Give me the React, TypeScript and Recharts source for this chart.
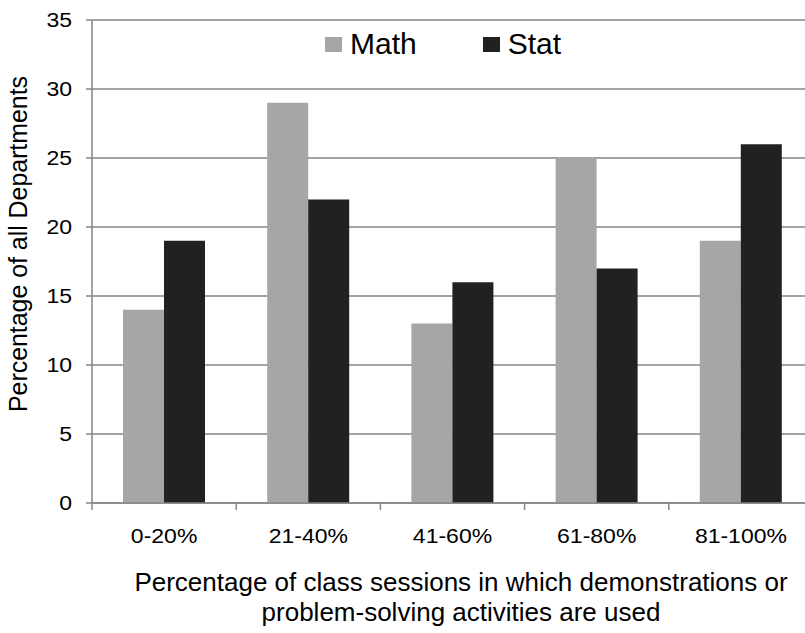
import React from 'react';
import { BarChart, Bar, XAxis, YAxis, CartesianGrid, Legend } from 'recharts';

const categories = ['0-20%', '21-40%', '41-60%', '61-80%', '81-100%'];
const mathValues = [14, 29, 13, 25, 19];
const statValues = [19, 22, 16, 17, 26];
const yTicks = [0, 5, 10, 15, 20, 25, 30, 35];

const seriesNames = ['Math', 'Stat'];
const seriesColors = ['#a6a6a6', '#212121'];

const data = categories.map((c, i) => ({
  name: c,
  Math: mathValues[i],
  Stat: statValues[i],
}));

const FONT = '"Liberation Sans", Arial, sans-serif';
const CHART_W = 820;
const CHART_H = 633;
const PLOT_LEFT = 92;
const PLOT_RIGHT = 7;
const HALF_BAND = (CHART_W - PLOT_LEFT - PLOT_RIGHT) / categories.length / 2;
const GRID = '#868686';
// tick labels in the source look a bit wider than plain Arial
const TICK_STRETCH = 1.18;

// category label plus the boundary tick mark on its left
const XTick = (props: any) => {
  const { x, y, payload } = props;
  return (
    <g>
      <line x1={x - HALF_BAND} y1={y} x2={x - HALF_BAND} y2={y + 7} stroke={GRID} strokeWidth={1.5} />
      <text
        transform={`translate(${x},${y + 40}) scale(${TICK_STRETCH},1)`}
        textAnchor="middle"
        fontSize={19.5}
        fontFamily={FONT}
        fill="#000"
      >
        {payload.value}
      </text>
    </g>
  );
};

const YTick = (props: any) => {
  const { x, y, payload } = props;
  return (
    <text
      transform={`translate(${x},${y + 7}) scale(${TICK_STRETCH},1)`}
      textAnchor="end"
      fontSize={19.5}
      fontFamily={FONT}
      fill="#000"
    >
      {payload.value}
    </text>
  );
};

const LegendContent = () => (
  <div style={{ display: 'flex', alignItems: 'center', fontFamily: FONT, fontSize: 30, color: '#000' }}>
    {seriesNames.map((n, i) => (
      <div key={n} style={{ display: 'flex', alignItems: 'center', marginRight: i === 0 ? 66 : 0 }}>
        <span style={{ display: 'inline-block', width: 17, height: 15, background: seriesColors[i], marginRight: 8 }} />
        <span>{n}</span>
      </div>
    ))}
  </div>
);

export default function App() {
  return (
    <div style={{ position: 'absolute', left: 0, top: 0, width: 805, height: 633, overflow: 'hidden', background: '#fff' }}>
      <BarChart
        width={CHART_W}
        height={CHART_H}
        data={data}
        margin={{ top: 20, right: PLOT_RIGHT, left: 0, bottom: 90 }}
        barGap={0}
        barSize={41}
      >
        <CartesianGrid horizontal vertical={false} stroke={GRID} strokeWidth={1.5} />
        <XAxis
          dataKey="name"
          height={40}
          axisLine={{ stroke: GRID, strokeWidth: 1.5 }}
          tickLine={false}
          tickSize={0}
          tickMargin={0}
          tick={<XTick />}
          interval={0}
        />
        <YAxis
          width={PLOT_LEFT}
          domain={[0, 35]}
          ticks={yTicks}
          interval={0}
          axisLine={{ stroke: GRID, strokeWidth: 1.5 }}
          tickLine={{ stroke: GRID, strokeWidth: 1.5 }}
          tickSize={6}
          tickMargin={14}
          tick={<YTick />}
        />
        <Legend
          layout="horizontal"
          verticalAlign="middle"
          align="center"
          content={<LegendContent />}
          wrapperStyle={{ top: 27, left: 325, width: 300, height: 40 }}
        />
        {seriesNames.map((n, i) => (
          <Bar key={n} dataKey={n} fill={seriesColors[i]} isAnimationActive={false} />
        ))}
      </BarChart>
      <svg width={805} height={633} style={{ position: 'absolute', left: 0, top: 0, pointerEvents: 'none' }}>
        <text
          transform="translate(27,244) rotate(-90)"
          textAnchor="middle"
          fontFamily={FONT}
          fontSize={26}
          textLength={336}
          lengthAdjust="spacingAndGlyphs"
          fill="#000"
        >
          Percentage of all Departments
        </text>
        <text x={461} y={591} textAnchor="middle" fontFamily={FONT} fontSize={26} fill="#000">
          Percentage of class sessions in which demonstrations or
        </text>
        <text x={461} y={621} textAnchor="middle" fontFamily={FONT} fontSize={26} fill="#000">
          problem-solving activities are used
        </text>
      </svg>
    </div>
  );
}
